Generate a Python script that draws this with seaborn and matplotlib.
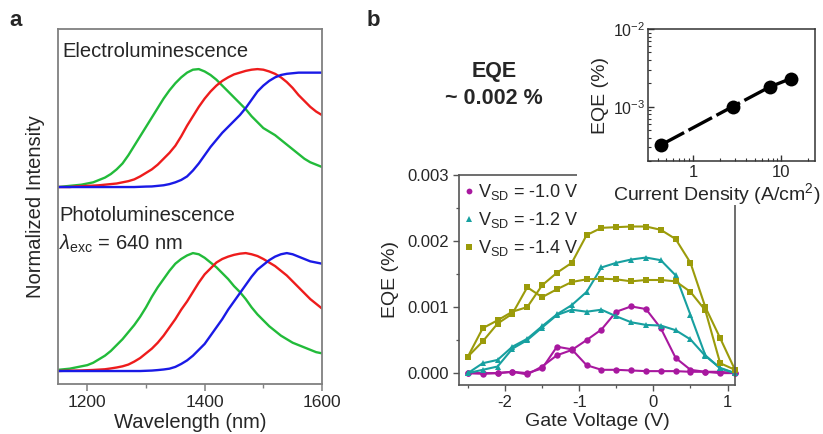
import numpy as np
import pandas as pd
import matplotlib
matplotlib.use("Agg")
import matplotlib.pyplot as plt
import seaborn as sns
from matplotlib.patches import Rectangle
from matplotlib.lines import Line2D
from matplotlib.ticker import (MultipleLocator, FixedLocator, FormatStrFormatter,
                               LogLocator, NullFormatter, FuncFormatter)

# ---------------- data: panel a (normalized spectra) ----------------
wavelength = [1150, 1160, 1170, 1180, 1190, 1200, 1210, 1220, 1230, 1240,
              1250, 1260, 1270, 1280, 1290, 1300, 1310, 1320, 1330, 1340,
              1350, 1360, 1370, 1380, 1390, 1400, 1410, 1420, 1430, 1440,
              1450, 1460, 1470, 1480, 1490, 1500, 1510, 1520, 1530, 1540,
              1550, 1560, 1570, 1580, 1590, 1600]

el_green = [0.00, 0.005, 0.01, 0.015, 0.02, 0.03, 0.04, 0.06, 0.08, 0.11,
            0.15, 0.20, 0.27, 0.35, 0.43, 0.51, 0.59, 0.67, 0.75, 0.82,
            0.88, 0.93, 0.97, 0.995, 1.0, 0.98, 0.95, 0.91, 0.86, 0.81,
            0.76, 0.71, 0.66, 0.60, 0.55, 0.50, 0.47, 0.44, 0.40, 0.36,
            0.32, 0.28, 0.24, 0.21, 0.19, 0.17]
el_red = [0.0, 0.0, 0.0, 0.005, 0.007, 0.01, 0.012, 0.015, 0.02, 0.025,
          0.03, 0.04, 0.05, 0.065, 0.09, 0.12, 0.15, 0.19, 0.24, 0.29,
          0.35, 0.43, 0.52, 0.60, 0.68, 0.75, 0.81, 0.86, 0.90, 0.93,
          0.955, 0.97, 0.985, 0.995, 1.0, 0.995, 0.98, 0.96, 0.93, 0.89,
          0.84, 0.78, 0.73, 0.68, 0.64, 0.61]
el_blue = [0.0, 0.0, 0.0, 0.0, 0.0, 0.0, 0.0, 0.0, 0.0, 0.0,
           0.0, 0.0, 0.0, 0.0, 0.002, 0.004, 0.005, 0.01, 0.015, 0.025,
           0.04, 0.06, 0.09, 0.14, 0.20, 0.27, 0.34, 0.40, 0.46, 0.51,
           0.56, 0.61, 0.67, 0.74, 0.81, 0.86, 0.90, 0.93, 0.95, 0.96,
           0.965, 0.97, 0.97, 0.97, 0.97, 0.97]
pl_green = [0.01, 0.015, 0.02, 0.03, 0.04, 0.05, 0.07, 0.10, 0.13, 0.17,
            0.22, 0.27, 0.33, 0.39, 0.46, 0.54, 0.63, 0.71, 0.78, 0.85,
            0.91, 0.95, 0.98, 1.0, 0.99, 0.96, 0.92, 0.88, 0.83, 0.78,
            0.72, 0.67, 0.61, 0.54, 0.48, 0.43, 0.38, 0.34, 0.30, 0.27,
            0.24, 0.22, 0.20, 0.18, 0.16, 0.15]
pl_red = [0.0, 0.002, 0.003, 0.004, 0.005, 0.007, 0.009, 0.012, 0.015, 0.022,
          0.03, 0.04, 0.055, 0.08, 0.11, 0.15, 0.19, 0.24, 0.30, 0.37,
          0.44, 0.52, 0.59, 0.67, 0.75, 0.82, 0.87, 0.92, 0.95, 0.97,
          0.985, 0.995, 1.0, 0.99, 0.975, 0.95, 0.92, 0.89, 0.85, 0.81,
          0.76, 0.71, 0.66, 0.61, 0.57, 0.53]
pl_blue = [0.0, 0.0, 0.0, 0.0, 0.0, 0.0, 0.0, 0.0, 0.0, 0.0,
           0.0, 0.0, 0.0, 0.0, 0.0, 0.002, 0.004, 0.008, 0.013, 0.02,
           0.035, 0.06, 0.09, 0.13, 0.18, 0.23, 0.30, 0.37, 0.44, 0.52,
           0.59, 0.66, 0.73, 0.80, 0.86, 0.90, 0.94, 0.97, 0.99, 1.0,
           0.99, 0.97, 0.95, 0.93, 0.92, 0.91]
el_offset = 1.56

# ---------------- data: panel b (EQE vs gate voltage) ----------------
gate_v = [-2.5, -2.3, -2.1, -1.9, -1.7, -1.5, -1.3, -1.1, -0.9, -0.7,
          -0.5, -0.3, -0.1, 0.1, 0.3, 0.5, 0.7, 0.9, 1.1]
# values in units of 1e-3 %
eqe_10_a = [0.0, 0.0, 0.0, 0.02, -0.02, 0.10, 0.27, 0.35, 0.50, 0.66,
            0.93, 1.01, 0.97, 0.68, 0.23, 0.05, 0.02, 0.0, 0.0]
eqe_10_b = [0.0, -0.01, 0.0, 0.02, 0.0, 0.07, 0.40, 0.36, 0.12, 0.05,
            0.05, 0.04, 0.03, 0.03, 0.03, 0.02, 0.02, 0.02, 0.0]
eqe_12_a = [0.0, 0.15, 0.20, 0.40, 0.52, 0.71, 0.89, 1.03, 1.23, 1.60,
            1.67, 1.72, 1.75, 1.71, 1.48, 0.88, 0.27, 0.07, 0.0]
eqe_12_b = [0.0, 0.05, 0.10, 0.37, 0.50, 0.69, 0.88, 0.96, 0.93, 0.96,
            0.86, 0.77, 0.73, 0.72, 0.65, 0.51, 0.26, 0.08, 0.0]
eqe_14_a = [0.25, 0.68, 0.80, 0.93, 1.00, 1.33, 1.52, 1.67, 2.09, 2.20,
            2.21, 2.22, 2.22, 2.17, 2.03, 1.67, 1.00, 0.53, 0.05]
eqe_14_b = [0.25, 0.48, 0.75, 0.90, 1.30, 1.15, 1.27, 1.38, 1.42, 1.43,
            1.42, 1.39, 1.41, 1.41, 1.39, 1.23, 0.95, 0.15, 0.05]
series_labels = [r"$\mathrm{V}_{\mathrm{SD}}$ = -1.0 V",
                 r"$\mathrm{V}_{\mathrm{SD}}$ = -1.2 V",
                 r"$\mathrm{V}_{\mathrm{SD}}$ = -1.4 V"]

# ---------------- data: inset ----------------
current_density = [0.43, 2.8, 7.4, 12.8]
eqe_inset = [3.2e-4, 1.0e-3, 1.8e-3, 2.3e-3]

# ---------------- style ----------------
sns.set_theme(style="ticks")
plt.rcParams["font.family"] = ["Liberation Sans", "DejaVu Sans"]
plt.rcParams["mathtext.fontset"] = "custom"
plt.rcParams["mathtext.rm"] = "Liberation Sans"
plt.rcParams["mathtext.it"] = "Liberation Sans:italic"
plt.rcParams["mathtext.bf"] = "Liberation Sans:bold"
plt.rcParams["axes.unicode_minus"] = False

fig = plt.figure(figsize=(8.23, 4.34), dpi=100)
W, H = 823.0, 434.0


def fax(l, t, r, b, **kw):
    return fig.add_axes([l / W, 1 - b / H, (r - l) / W, (b - t) / H], **kw)


# ================= panel a =================
axa = fax(58, 29, 322, 384)
rows = []
for name, vals, off in [("PL green", pl_green, 0.0), ("PL red", pl_red, 0.0),
                        ("PL blue", pl_blue, 0.0),
                        ("EL green", el_green, el_offset), ("EL red", el_red, el_offset),
                        ("EL blue", el_blue, el_offset)]:
    for w, v in zip(wavelength, vals):
        rows.append({"wl": w, "y": v + off, "curve": name})
df_a = pd.DataFrame(rows)
pal_a = {"PL green": "#22bb3a", "EL green": "#22bb3a",
         "PL red": "#ee1c1c", "EL red": "#ee1c1c",
         "PL blue": "#1a1ae6", "EL blue": "#1a1ae6"}
sns.lineplot(data=df_a, x="wl", y="y", hue="curve", palette=pal_a, units="curve",
             estimator=None, legend=False, lw=1.7, ax=axa)
axa.set_xlim(1150, 1600)
axa.set_ylim(-0.11, 2.90)
axa.set_yticks([])
axa.xaxis.set_major_locator(FixedLocator([1200, 1400, 1600]))
axa.xaxis.set_minor_locator(FixedLocator([1300, 1500]))
axa.tick_params(axis="x", which="major", direction="out", length=5, width=1.1,
                color="#808080", labelsize=12.5, pad=3)
axa.tick_params(axis="x", which="minor", direction="out", length=3, width=1.0, color="#808080")
for s in axa.spines.values():
    s.set_color("#808080")
    s.set_linewidth(1.3)
axa.set_xlabel("Wavelength (nm)", fontsize=14.5, labelpad=2)
axa.set_ylabel("Normalized Intensity", fontsize=14.5, labelpad=9)
axa.text(1158, 2.71, "Electroluminescence", fontsize=14.5, va="center", ha="left")
axa.text(1152, 1.32, "Photoluminescence", fontsize=14.5, va="center", ha="left")
axa.text(1152, 1.08, r"$\lambda_{\mathrm{exc}}$ = 640 nm", fontsize=14.5, va="center", ha="left")

# ================= panel b (main) =================
axb = fax(459, 175, 735, 385)
colors_b = ["#a8189f", "#17a0a0", "#9b9b0a"]
markers_b = ["o", "^", "s"]
msizes = [4.6, 5.0, 4.2]
data_b = [(eqe_10_a, eqe_10_b), (eqe_12_a, eqe_12_b), (eqe_14_a, eqe_14_b)]
for lab, (a, b), c, m, ms in zip(series_labels, data_b, colors_b, markers_b, msizes):
    rows = []
    for br, vals in (("fwd", a), ("rev", b)):
        for v, e in zip(gate_v, vals):
            rows.append({"vg": v, "eqe": e * 1e-3, "branch": br})
    d = pd.DataFrame(rows)
    sns.lineplot(data=d, x="vg", y="eqe", units="branch", estimator=None, sort=False,
                 color=c, marker=m, markersize=ms, markeredgewidth=0, lw=1.5,
                 legend=False, ax=axb, clip_on=False)
axb.set_xlim(-2.62, 1.1)
axb.set_ylim(-0.00018, 0.003)
axb.xaxis.set_major_locator(FixedLocator([-2, -1, 0, 1]))
axb.xaxis.set_minor_locator(MultipleLocator(0.5))
axb.yaxis.set_major_locator(FixedLocator([0.0, 0.001, 0.002, 0.003]))
axb.yaxis.set_minor_locator(MultipleLocator(0.0005))
axb.yaxis.set_major_formatter(FormatStrFormatter("%.3f"))
axb.tick_params(which="major", direction="out", length=4, width=1.0, color="#555555",
                labelsize=12)
axb.tick_params(which="minor", direction="out", length=2.5, width=0.9, color="#555555")
for s in axb.spines.values():
    s.set_color("#555555")
    s.set_linewidth(1.2)
axb.set_xlabel("Gate Voltage (V)", fontsize=14, labelpad=2)
axb.set_ylabel("EQE (%)", fontsize=14, labelpad=6)
handles = [Line2D([], [], ls="none", marker=m, color=c, markersize=4.2, markeredgewidth=0)
           for c, m in zip(colors_b, markers_b)]
axb.legend(handles, series_labels, loc="upper left", bbox_to_anchor=(-0.005, 1.0),
           frameon=False, fontsize=13, handlelength=0.5, handletextpad=0.25,
           labelspacing=0.45, borderaxespad=0.0)

fig.text(494 / W, 1 - 71 / H, "EQE", fontsize=15.5, fontweight="bold", ha="center", va="center")
fig.text(494 / W, 1 - 99 / H, "~ 0.002 %", fontsize=15.5, fontweight="bold", ha="center", va="center")

# white region behind inset covering the corner of the main axes
cover = Rectangle((577 / W, 1 - 205 / H), 1.0, 1.0, transform=fig.transFigure,
                  facecolor="white", edgecolor="none", zorder=0.5)
fig.add_artist(cover)

# ================= inset =================
axi = fax(648, 29, 815, 161)
axi.set_zorder(1)
sns.lineplot(x=current_density, y=eqe_inset, color="black", marker="o", markersize=10,
             markeredgewidth=0, lw=2.4, ax=axi, legend=False, clip_on=False)
for ln in axi.get_lines():
    ln.set_dashes((8, 1.5))
axi.set_xscale("log")
axi.set_yscale("log")
axi.set_xlim(0.31, 24)
axi.set_ylim(2.0e-4, 1e-2)
axi.xaxis.set_major_locator(FixedLocator([1, 10]))
axi.xaxis.set_major_formatter(FuncFormatter(lambda v, p: "%g" % v))
axi.xaxis.set_minor_locator(LogLocator(base=10, subs=[2, 3, 4, 5, 6, 7, 8, 9], numticks=20))
axi.xaxis.set_minor_formatter(NullFormatter())
axi.yaxis.set_major_locator(FixedLocator([1e-3, 1e-2]))
axi.yaxis.set_minor_locator(LogLocator(base=10, subs=[2, 3, 4, 5, 6, 7, 8, 9], numticks=20))
axi.yaxis.set_minor_formatter(NullFormatter())
axi.yaxis.set_major_formatter(FuncFormatter(lambda v, p: r"$10^{%d}$" % int(round(np.log10(v)))))
axi.tick_params(which="major", direction="in", length=4, width=1.0, color="#333333")
axi.tick_params(which="minor", direction="in", length=2, width=0.8, color="#333333")
axi.tick_params(axis="x", labelsize=12, pad=3)
axi.tick_params(axis="y", labelsize=11.5, pad=2)
for s in axi.spines.values():
    s.set_color("#333333")
    s.set_linewidth(1.1)
axi.set_xlabel("Current Density (A/cm$^2$)", fontsize=14, labelpad=1)
axi.xaxis.set_label_coords((717 - 648) / 167.0, -0.155)
axi.set_ylabel("EQE (%)", fontsize=14, labelpad=3)

# panel letters
fig.text(16 / W, 1 - 21 / H, "a", fontsize=16, fontweight="bold", ha="center", va="center")
fig.text(373 / W, 1 - 20 / H, "b", fontsize=16, fontweight="bold", ha="center", va="center")

fig.savefig("out.png", dpi=100)
